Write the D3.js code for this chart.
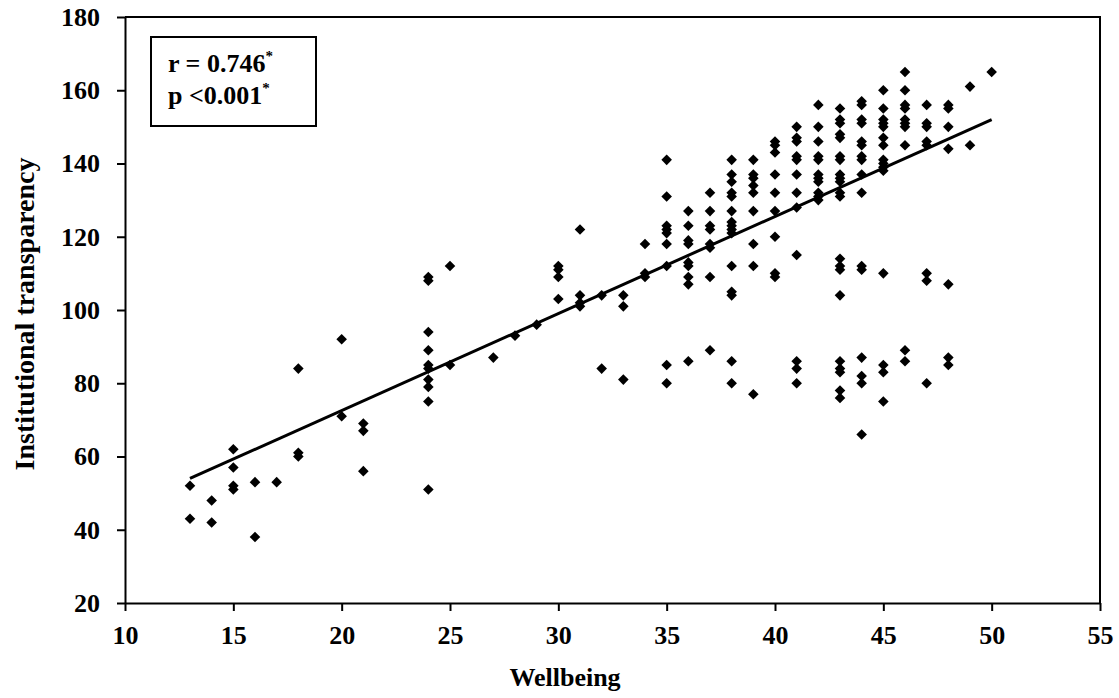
<!DOCTYPE html>
<head>
    <meta charset="utf-8">
    <title>Wellbeing vs Institutional transparency</title>
    <script src="https://d3js.org/d3.v7.min.js"></script>
    <style>
        body { margin: 0; background: #fff; }
        text { font-family: "Liberation Serif", "Times New Roman", serif; font-weight: bold; fill: #000; }
        .tick text { font-weight: bold; font-size: 26px; }
    </style>
</head>
<body>
    <div id="container"></div>
    <script>
        //---------------------------DATA---------------------------//
        // wellbeing score (x) and the transparency scores read at that score (y)
        var wellbeingLevels = [13, 14, 15, 16, 17, 18, 20, 21, 24, 25, 27, 28, 29, 30, 31, 32, 33, 34,
            35, 36, 37, 38, 39, 40, 41, 42, 43, 44, 45, 46, 47, 48, 49, 50];
        var transparencyByLevel = [
            [52, 43],
            [48, 42],
            [62, 57, 52, 51],
            [53, 38],
            [53],
            [84, 61, 60],
            [92, 71],
            [69, 67, 56],
            [109, 108, 94, 89, 85, 84, 81, 79, 75, 51],
            [112, 85],
            [87],
            [93],
            [96],
            [112, 111, 109, 103],
            [122, 104, 102, 101],
            [104, 84],
            [104, 101, 81],
            [118, 110, 109],
            [141, 131, 123, 122, 121, 118, 112, 85, 80],
            [127, 123, 119, 118, 113, 112, 109, 107, 86],
            [132, 127, 123, 122, 118, 117, 109, 89],
            [141, 137, 135, 132, 131, 127, 124, 123, 122, 121, 112, 105, 104, 86, 80],
            [141, 137, 136, 134, 132, 127, 118, 112, 77],
            [146, 145, 143, 137, 132, 127, 120, 110, 109],
            [150, 147, 146, 142, 141, 137, 132, 128, 115, 86, 84, 80],
            [156, 150, 146, 142, 141, 137, 136, 135, 132, 131, 130],
            [155, 152, 151, 148, 147, 142, 141, 137, 136, 135, 132, 131, 114, 112, 111, 104, 86, 84, 83, 78, 76],
            [157, 156, 152, 151, 146, 145, 142, 141, 137, 132, 112, 111, 87, 82, 80, 66],
            [160, 155, 152, 151, 150, 147, 145, 141, 140, 139, 138, 110, 85, 83, 75],
            [165, 160, 156, 155, 152, 151, 150, 145, 89, 86],
            [156, 151, 150, 146, 145, 110, 108, 80],
            [156, 155, 150, 144, 107, 87, 85],
            [161, 145],
            [165]
        ];
        // fitted line as drawn (from x=13 to x=50)
        var fitRange = [13, 50];
        var fitIntercept = 19.56, fitSlope = 2.649;

        var xTicks = [10, 15, 20, 25, 30, 35, 40, 45, 50, 55];
        var yTicks = [20, 40, 60, 80, 100, 120, 140, 160, 180];
        var statLines = [["r = 0.746", "*"], ["p <0.001", "*"]];

        //---------------------------SETUP--------------------------//
        var W = 1119, H = 698;
        var margin = { top: 17, right: 19, bottom: 95, left: 125 };
        var width = W - margin.left - margin.right,
            height = H - margin.top - margin.bottom;

        var points = [];
        wellbeingLevels.forEach(function (x, i) {
            transparencyByLevel[i].forEach(function (y) { points.push({ x: x, y: y }); });
        });

        var xScale = d3.scaleLinear().domain([10, 55]).range([0, width]);
        var yScale = d3.scaleLinear().domain([20, 180]).range([height, 0]);

        var svg = d3.select("#container").append("svg")
            .attr("width", W).attr("height", H);
        var g = svg.append("g")
            .attr("transform", "translate(" + margin.left + "," + margin.top + ")");

        //---------------------------AXES---------------------------//
        var xAxis = d3.axisBottom(xScale).tickValues(xTicks).tickSize(8).tickSizeOuter(0).tickPadding(15);
        var yAxis = d3.axisLeft(yScale).tickValues(yTicks).tickSize(8).tickSizeOuter(0).tickPadding(17);

        var gx = g.append("g").attr("transform", "translate(0," + height + ")").call(xAxis);
        var gy = g.append("g").call(yAxis);
        [gx, gy].forEach(function (a) {
            a.attr("font-family", null).attr("font-size", null);
            a.selectAll("path, line").attr("stroke", "#000").attr("stroke-width", 2);
            a.selectAll("text").attr("fill", "#000");
        });

        // top and right frame
        g.append("path")
            .attr("d", "M0,0H" + width + "V" + height)
            .attr("fill", "none").attr("stroke", "#000").attr("stroke-width", 2);

        svg.append("text")
            .attr("x", 565).attr("y", 686)
            .attr("text-anchor", "middle").style("font-size", "26px")
            .text("Wellbeing");

        svg.append("text")
            .attr("transform", "translate(34,314) rotate(-90)")
            .attr("text-anchor", "middle").style("font-size", "28px")
            .text("Institutional transparency");

        //---------------------------MARKS--------------------------//
        var diamond = d3.symbol().type(d3.symbolSquare).size(56);
        g.selectAll(".dot")
            .data(points)
            .join("path")
            .attr("class", "dot")
            .attr("d", diamond)
            .attr("transform", d => "translate(" + xScale(d.x) + "," + yScale(d.y) + ") rotate(45)")
            .attr("fill", "#000");

        var line = d3.line()
            .x(d => xScale(d))
            .y(d => yScale(fitIntercept + fitSlope * d));
        g.append("path")
            .datum(fitRange)
            .attr("d", line)
            .attr("fill", "none").attr("stroke", "#000").attr("stroke-width", 3);

        //---------------------------STATS BOX----------------------//
        svg.append("rect")
            .attr("x", 151).attr("y", 37).attr("width", 165).attr("height", 89)
            .attr("fill", "#fff").attr("stroke", "#000").attr("stroke-width", 2);

        statLines.forEach(function (s, i) {
            var t = svg.append("text")
                .attr("x", 168).attr("y", 72 + i * 32)
                .style("font-size", "26px");
            t.append("tspan").text(s[0]);
            t.append("tspan").attr("dy", -11).style("font-size", "15px").text(s[1]);
        });
    </script>
</body>
